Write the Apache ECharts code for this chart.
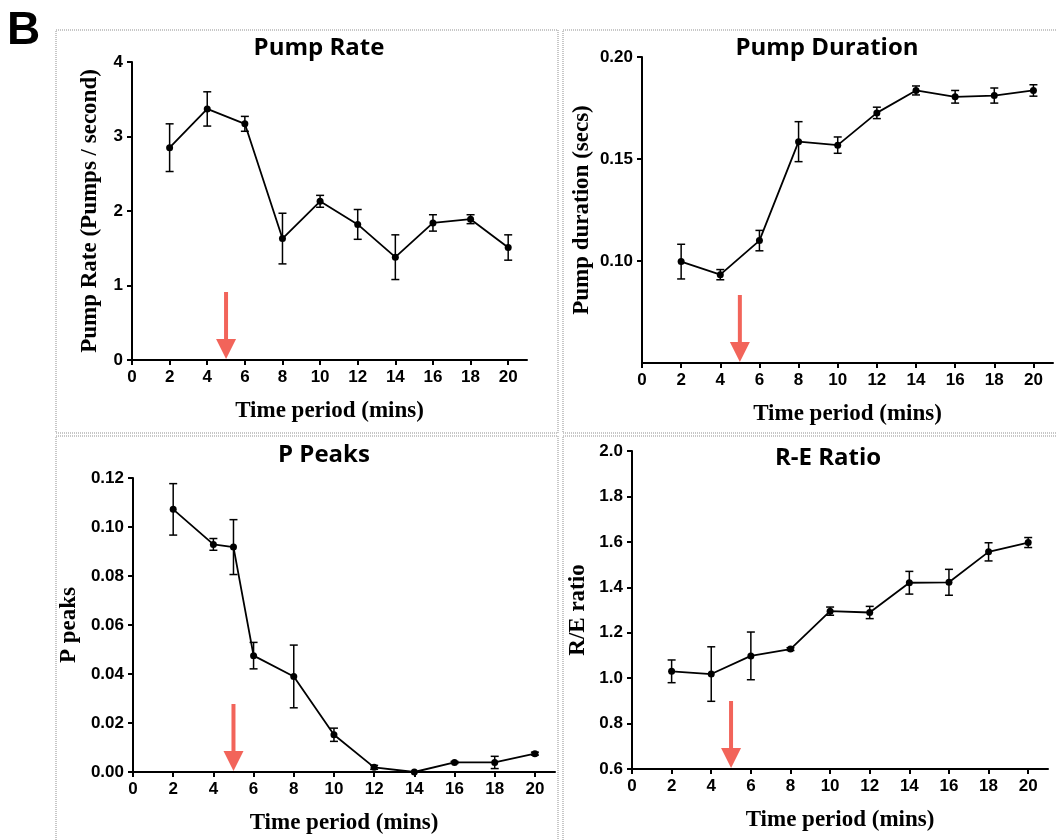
<!DOCTYPE html>
<html>
<head>
<meta charset="utf-8">
<script src="https://cdn.jsdelivr.net/npm/echarts@6/dist/echarts.min.js"></script>
<style>
  html, body { margin: 0; padding: 0; background: #fff; }
  #main { width: 1056px; height: 840px; }
</style>
</head>
<body>
<div id="main"></div>
<script>
// time points (mins)
var minutes = [2, 4, 6, 8, 10, 12, 14, 16, 18, 20];
var peakMinutes = [2, 4, 5, 6, 8, 10, 12, 14, 16, 18, 20];
var arrowAt = 5;

// Pump Rate
var rateMean = [2.85, 3.37, 3.17, 1.63, 2.13, 1.82, 1.38, 1.84, 1.89, 1.51];
var rateErr  = [0.32, 0.23, 0.10, 0.34, 0.08, 0.20, 0.30, 0.11, 0.06, 0.17];
// Pump Duration
var durMean = [0.0997, 0.0933, 0.110, 0.1585, 0.1568, 0.1726, 0.1836, 0.1805, 0.1811, 0.1836];
var durErr  = [0.0085, 0.0025, 0.0050, 0.0098, 0.0040, 0.0028, 0.0022, 0.0031, 0.0037, 0.0028];
// P Peaks
var peakMean = [0.1072, 0.0929, 0.0918, 0.0475, 0.0390, 0.0152, 0.0019, 0.0000, 0.0039, 0.0039, 0.0075];
var peakErr  = [0.0105, 0.0024, 0.0112, 0.0054, 0.0128, 0.0027, 0.0008, 0.0000, 0.0004, 0.0025, 0.0006];
// R-E Ratio
var ratioMean = [1.03, 1.018, 1.098, 1.128, 1.295, 1.289, 1.420, 1.422, 1.556, 1.597];
var ratioErr  = [0.050, 0.120, 0.105, 0.006, 0.018, 0.027, 0.050, 0.057, 0.040, 0.022];

// tick labels
var xTicks = [0, 2, 4, 6, 8, 10, 12, 14, 16, 18, 20];
var rateTicks = [0, 1, 2, 3, 4];
var durTicks = [0.10, 0.15, 0.20];
var peakTicks = [0, 0.02, 0.04, 0.06, 0.08, 0.10, 0.12];
var ratioTicks = [0.6, 0.8, 1.0, 1.2, 1.4, 1.6, 1.8, 2.0];

var titles = ['Pump Rate', 'Pump Duration', 'P Peaks', 'R-E Ratio'];
var yNames = ['Pump Rate (Pumps / second)', 'Pump duration (secs)', 'P peaks', 'R/E ratio'];
var xName = 'Time period (mins)';

var labelFont = { color: '#000', fontFamily: 'Liberation Sans', fontWeight: 'bold', fontSize: 17 };
var nameFont = { color: '#000', fontFamily: 'Liberation Serif', fontWeight: 'bold', fontSize: 23 };
var axisLine = { show: true, onZero: false, lineStyle: { color: '#000', width: 2 } };

var grids = [
    { left: 132, top: 62, width: 395, height: 298 },
    { left: 642, top: 57, width: 411, height: 306 },
    { left: 133, top: 478, width: 422, height: 294 },
    { left: 632, top: 451, width: 416, height: 318 }
];

function xAxis(i) {
    return {
        type: 'value', gridIndex: i, min: 0, max: 21,
        axisLine: axisLine,
        axisTick: { show: true, length: 5, lineStyle: { color: '#000', width: 2 }, customValues: xTicks },
        axisLabel: Object.assign({ margin: 9, customValues: xTicks }, labelFont),
        splitLine: { show: false },
        name: xName, nameLocation: 'middle', nameGap: 40, nameTextStyle: nameFont
    };
}

function yAxis(i, min, max, ticks, digits, gap) {
    return {
        type: 'value', gridIndex: i, min: min, max: max,
        axisLine: axisLine,
        axisTick: { show: true, length: 5, lineStyle: { color: '#000', width: 2 }, customValues: ticks },
        axisLabel: Object.assign({
            margin: 9, customValues: ticks,
            formatter: function (v) { return v.toFixed(digits); }
        }, labelFont),
        splitLine: { show: false },
        name: yNames[i], nameLocation: 'middle', nameGap: gap, nameTextStyle: nameFont
    };
}

function lineSeries(i, xs, mean) {
    return {
        type: 'line', xAxisIndex: i, yAxisIndex: i,
        data: xs.map(function (m, k) { return [m, mean[k]]; }),
        symbol: 'circle', symbolSize: 7, z: 3,
        lineStyle: { color: '#000', width: 1.8 },
        itemStyle: { color: '#000' }
    };
}

function errorSeries(i, xs, mean, err) {
    return {
        type: 'custom', xAxisIndex: i, yAxisIndex: i, z: 2,
        encode: { x: 0, y: [1, 2] },
        data: xs.map(function (m, k) { return [m, mean[k] - err[k], mean[k] + err[k]]; }),
        renderItem: function (params, api) {
            var lo = api.coord([api.value(0), api.value(1)]);
            var hi = api.coord([api.value(0), api.value(2)]);
            var w = 4, st = { stroke: '#000', lineWidth: 1.5 };
            return {
                type: 'group', children: [
                    { type: 'line', shape: { x1: lo[0], y1: lo[1], x2: hi[0], y2: hi[1] }, style: st },
                    { type: 'line', shape: { x1: lo[0] - w, y1: lo[1], x2: lo[0] + w, y2: lo[1] }, style: st },
                    { type: 'line', shape: { x1: hi[0] - w, y1: hi[1], x2: hi[0] + w, y2: hi[1] }, style: st }
                ]
            };
        }
    };
}

function arrowSeries(i) {
    return {
        type: 'custom', xAxisIndex: i, yAxisIndex: i, z: 4,
        data: [[arrowAt]],
        encode: { x: 0 },
        renderItem: function (params, api) {
            var cs = params.coordSys;
            var px = api.coord([api.value(0), 0])[0];
            var base = cs.y + cs.height - 1;
            var col = '#f2645a';
            return {
                type: 'group', children: [
                    { type: 'rect', shape: { x: px - 2, y: base - 67, width: 4, height: 48 }, style: { fill: col } },
                    { type: 'polygon', shape: { points: [[px - 10, base - 20], [px + 10, base - 20], [px, base]] }, style: { fill: col } }
                ]
            };
        }
    };
}

var titleCenters = [[319, 36], [827, 36], [324, 443], [828, 446]];

var myChart = echarts.init(document.getElementById('main'));
myChart.setOption({
    animation: false,
    backgroundColor: '#fff',
    title: titles.map(function (t, i) {
        return {
            text: t, left: titleCenters[i][0], top: titleCenters[i][1], textAlign: 'center',
            padding: 0,
            textStyle: { color: '#000', fontFamily: 'Open Sans', fontWeight: 'bold', fontSize: 24 }
        };
    }),
    graphic: [
        { type: 'text', left: 7, top: 8, style: { text: 'B', fill: '#000', font: 'bold 46px "Liberation Sans"' } },
        { type: 'rect', shape: { x: 56, y: 30, width: 502, height: 403 }, style: { fill: 'none', stroke: '#b5b5b5', lineWidth: 1.5, lineDash: [1, 1] } },
        { type: 'rect', shape: { x: 563, y: 30, width: 510, height: 403 }, style: { fill: 'none', stroke: '#b5b5b5', lineWidth: 1.5, lineDash: [1, 1] } },
        { type: 'rect', shape: { x: 56, y: 436, width: 502, height: 420 }, style: { fill: 'none', stroke: '#b5b5b5', lineWidth: 1.5, lineDash: [1, 1] } },
        { type: 'rect', shape: { x: 563, y: 436, width: 510, height: 420 }, style: { fill: 'none', stroke: '#b5b5b5', lineWidth: 1.5, lineDash: [1, 1] } }
    ],
    grid: grids,
    xAxis: [xAxis(0), xAxis(1), xAxis(2), xAxis(3)],
    yAxis: [
        yAxis(0, 0, 4, rateTicks, 0, 30),
        yAxis(1, 0.05, 0.20, durTicks, 2, 48),
        yAxis(2, 0, 0.12, peakTicks, 2, 52),
        yAxis(3, 0.6, 2.0, ratioTicks, 1, 42)
    ],
    series: [
        errorSeries(0, minutes, rateMean, rateErr), lineSeries(0, minutes, rateMean), arrowSeries(0),
        errorSeries(1, minutes, durMean, durErr), lineSeries(1, minutes, durMean), arrowSeries(1),
        errorSeries(2, peakMinutes, peakMean, peakErr), lineSeries(2, peakMinutes, peakMean), arrowSeries(2),
        errorSeries(3, minutes, ratioMean, ratioErr), lineSeries(3, minutes, ratioMean), arrowSeries(3)
    ]
});
</script>
</body>
</html>
